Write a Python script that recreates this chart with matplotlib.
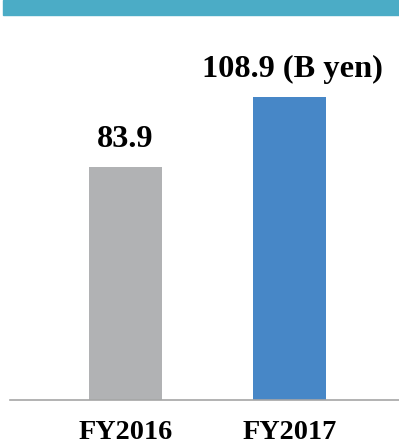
import matplotlib.pyplot as plt
from matplotlib.patches import Rectangle

# data
years = ["FY2016", "FY2017"]
sales = [83.9, 108.9]
labels = ["83.9", "108.9 (B yen)"]
colors = ["#B1B2B4", "#4787C7"]

W, H = 399, 443
fig = plt.figure(figsize=(W / 100, H / 100), dpi=100)

# teal header band
fig.patches.append(Rectangle((3 / W, 1 - 14.5 / H), 1, 14.5 / H,
                             transform=fig.transFigure, color="#4BACC6", zorder=0))

ax = fig.add_axes([10 / W, 43 / H, 389 / W, 360 / H])
x = list(range(len(years)))
bars = ax.bar(x, sales, width=0.445, color=colors)
ax.set_xlim(-0.704, 1.668)
ax.set_ylim(0, 360 / 2.78)

font = dict(family="Liberation Serif", weight="bold")
for i, (b, lab) in enumerate(zip(bars, labels)):
    ax.annotate(lab, (b.get_x() + b.get_width() / 2, b.get_height()),
                xytext=(2 * i, 14.5), textcoords="offset points",
                ha="center", va="baseline", fontsize=23.3, **font)

ax.set_xticks(x)
ax.set_xticklabels(years, fontsize=20.3, **font)
ax.tick_params(axis="x", length=0, pad=14.5)
ax.set_yticks([])
for s in ["top", "right", "left"]:
    ax.spines[s].set_visible(False)
ax.spines["bottom"].set_color("#A6A6A6")
ax.spines["bottom"].set_linewidth(1.2)

fig.savefig("out.png", dpi=100)
